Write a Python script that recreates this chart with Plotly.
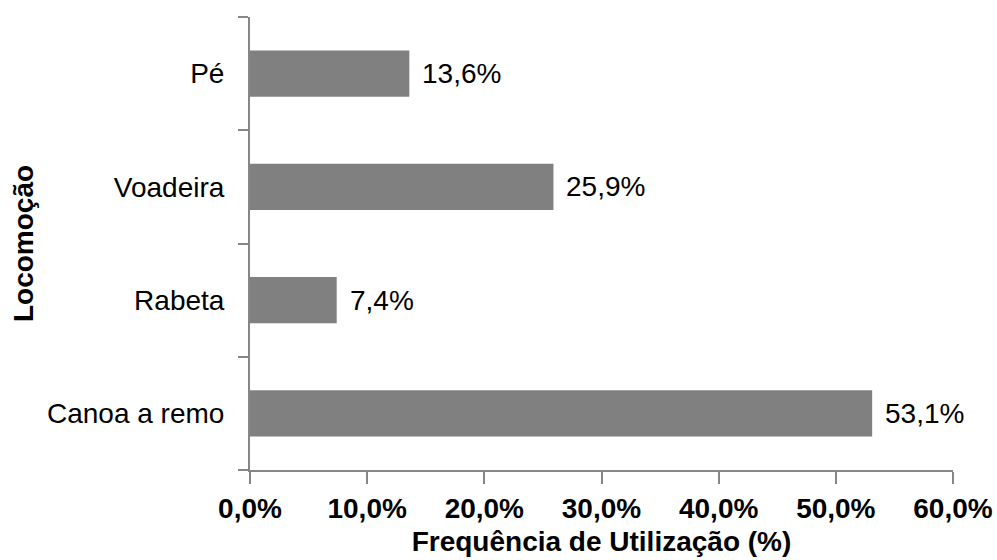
import plotly.graph_objects as go

categories = ["Canoa a remo", "Rabeta", "Voadeira", "Pé"]
values = [53.1, 7.4, 25.9, 13.6]
labels = ["53,1%", "7,4%", "25,9%", "13,6%"]
x_ticks = [0, 10, 20, 30, 40, 50, 60]
x_tick_labels = ["0,0%", "10,0%", "20,0%", "30,0%", "40,0%", "50,0%", "60,0%"]

FONT = "Liberation Sans, Arial, sans-serif"
AXIS = "#868686"
FS = 28

fig = go.Figure()
fig.add_trace(go.Bar(
    x=values, y=categories, orientation="h",
    marker=dict(color="#808080", line=dict(width=0)),
    width=0.41,
    hoverinfo="skip",
))
for v, c, t in zip(values, categories, labels):
    fig.add_annotation(x=v, y=c, text=t, showarrow=False, xanchor="left",
                       xshift=11, font=dict(family=FONT, size=FS, color="#000000"))

fig.update_layout(
    width=997, height=560,
    margin=dict(l=250, r=44, t=17, b=90),
    paper_bgcolor="white", plot_bgcolor="white",
    showlegend=False,
    xaxis=dict(
        range=[0, 60], tickvals=x_ticks, ticktext=x_tick_labels,
        automargin=False,
        showgrid=False, zeroline=False,
        showline=True, linecolor=AXIS, linewidth=2,
        ticks="outside", ticklen=12, tickwidth=2, tickcolor=AXIS,
        tickfont=dict(family=FONT, size=FS, color="#000000", weight="bold"),
        title=dict(text="Frequência de Utilização (%)", standoff=9,
                   font=dict(family=FONT, size=FS, color="#000000", weight="bold")),
    ),
    yaxis=dict(
        categoryorder="array", categoryarray=categories,
        range=[-0.5, 3.5],
        automargin=False,
        showgrid=False, zeroline=False,
        showline=True, linecolor=AXIS, linewidth=2,
        ticks="outside", ticklen=10, tickwidth=2, tickcolor=AXIS,
        tickson="boundaries", ticklabelstandoff=18,
        tickfont=dict(family=FONT, size=FS, color="#000000"),
        title=dict(text="Locomoção", standoff=5,
                   font=dict(family=FONT, size=FS, color="#000000", weight="bold")),
    ),
)

fig.write_html("out.html")
